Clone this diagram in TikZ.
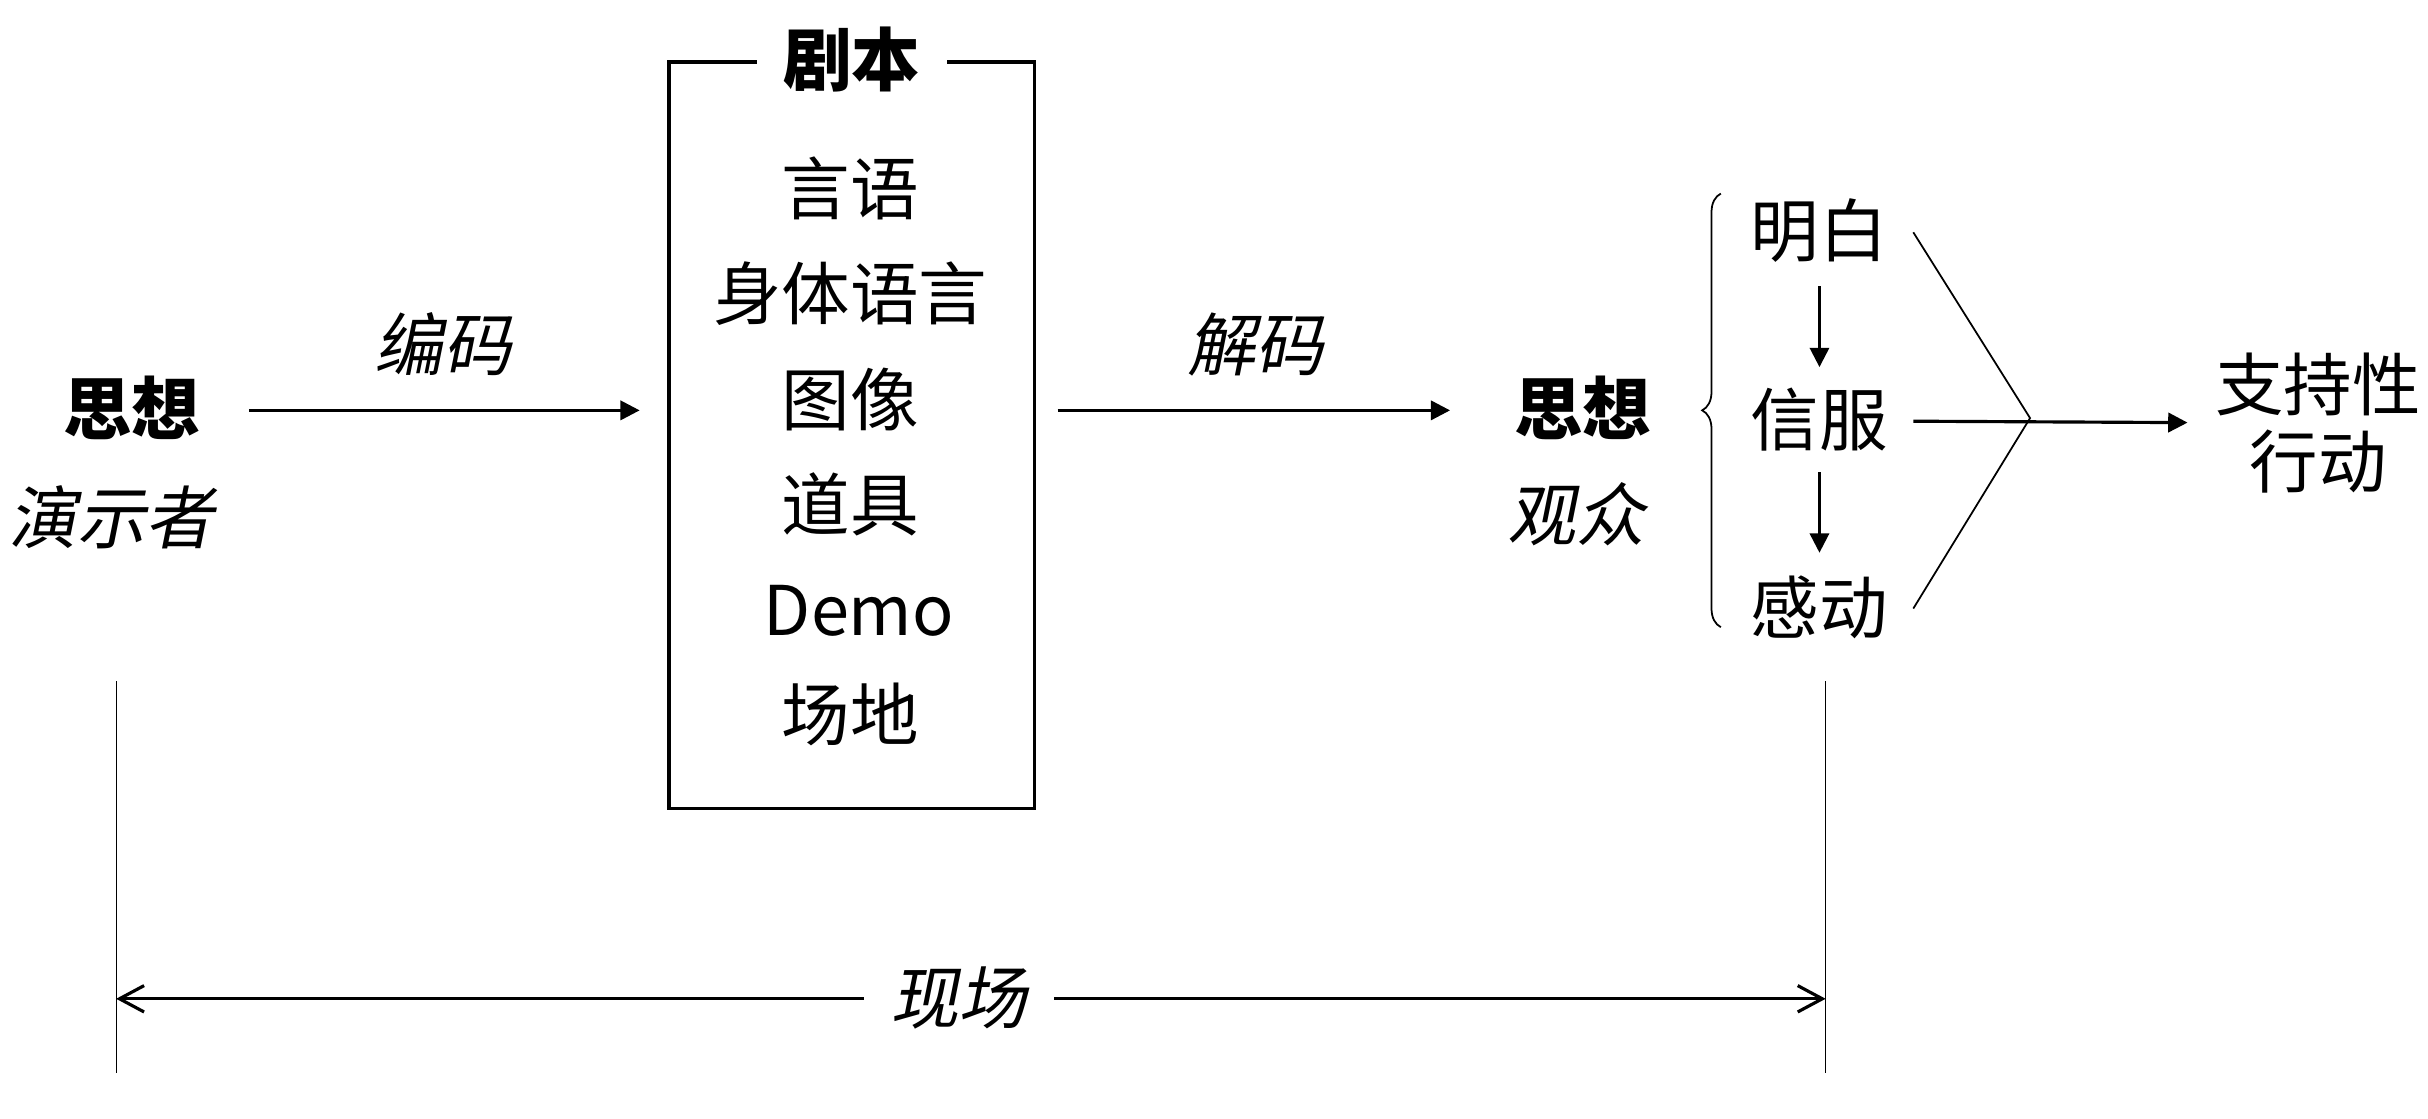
\documentclass[tikz,border=0pt]{standalone}
\usepackage{fontspec}
\setmainfont{Noto Sans CJK SC}
\newfontfamily\slantcjk{Noto Sans CJK SC}[FakeSlant=0.2]
\usetikzlibrary{positioning}
\usetikzlibrary{matrix}
\usetikzlibrary{decorations.pathreplacing}
\usetikzlibrary{arrows.meta}
\tikzset{
        word/.style={font=\fontsize{19.5}{22}\selectfont, inner sep=0pt, text height=14pt, text depth=0pt},
        thought/.style={word, font=\fontsize{19.5}{22}\selectfont\bfseries},
        slanted/.style={word, font=\fontsize{19.5}{22}\selectfont\slantcjk},
        goal/.style={font=\fontsize{19.5}{22}\selectfont, inner sep=0pt, align=center},
        flow/.style={line width=0.9pt, -{Triangle[length=5.5pt, width=5.5pt]}},
        thin line/.style={line width=0.5pt},
        guide/.style={line width=0.35pt},
        span/.style={line width=0.9pt, {Straight Barb[length=7pt, width=7.5pt]}-{Straight Barb[length=7pt, width=7.5pt]}},
        script list/.style={
          matrix of nodes,
          row sep={29.9pt, between origins},
          nodes={word, anchor=center}
          },
}

\begin{document}
\begin{tikzpicture}[x=0.015485cm, y=-0.015485cm]
      \useasboundingbox (0,0) rectangle (1568,722);
      % PRESENTER
      \node[thought] (thinkL) at (85,265) {思想};
      \node[slanted] (presenter) at (72,335) {演示者};

      % SCRIPT
      \node[draw, line width=0.9pt, minimum width=3.654cm, minimum height=7.464cm] (script) at (550,281) {};
      \node[thought, fill=white, inner xsep=7.5pt] (scripttitle) at (script.north) {剧本};
      \matrix[script list] (items) at (549,292.5) {
        言语 \\
        身体语言 \\
        图像 \\
        道具 \\
        |[xshift=2.5pt]| Demo \\
        场地 \\
        };

      % AUDIENCE
      \node[thought] (thinkR) at (1022,265) {思想};
      \node[slanted] (audience) at (1018,333) {观众};
      \node[word] (understand) at (1175,150) {明白};
      \node[word] (convince) at (1175,272) {信服};
      \node[word] (moved) at (1175,393) {感动};
      \node[goal] (action) at (1497,273) {支持性\\行动};
      \coordinate (fan) at (1311,270);

      % ARROWS
      \draw[flow, shorten <=13.7pt, shorten >=7.9pt] (thinkL.east) -- node[slanted, pos=0.52, above=11pt] (encode) {编码} (thinkL.east -| script.west);
      \draw[flow, shorten <=6.2pt, shorten >=18pt] (script.east |- thinkR.west) -- node[slanted, pos=0.46, above=11pt] (decode) {解码} (thinkR.west);
      \draw[flow, line width=0.7pt, shorten <=15.4pt, shorten >=15.4pt] (understand.center) -- (convince.center);
      \draw[flow, line width=0.7pt, shorten <=14.5pt, shorten >=15.9pt] (convince.center) -- (moved.center);
      \draw[thin line, decorate, decoration={brace, amplitude=5.3pt}] ([shift={(-19,12)}]moved.west) -- ([shift={(-19,-25)}]understand.west);
      \draw[thin line] ([xshift=7pt]understand.east) -- (fan) -- ([xshift=7pt]moved.east);
      \draw[flow, shorten >=7.7pt] ([xshift=7pt]convince.east) -- (action.west);

      % LIVE
      \coordinate (liveL) at (75,440);
      \coordinate (liveR) at (1179,440);
      \coordinate (spanL) at (75,645);
      \coordinate (spanR) at (1179,645);
      \draw[guide] (liveL) -- ++(0,253);
      \draw[guide] (liveR) -- ++(0,253);
      \draw[span] (spanL) -- node[slanted, fill=white, inner xsep=7.5pt, pos=0.493] (live) {现场} (spanR);
\end{tikzpicture}
\end{document}
